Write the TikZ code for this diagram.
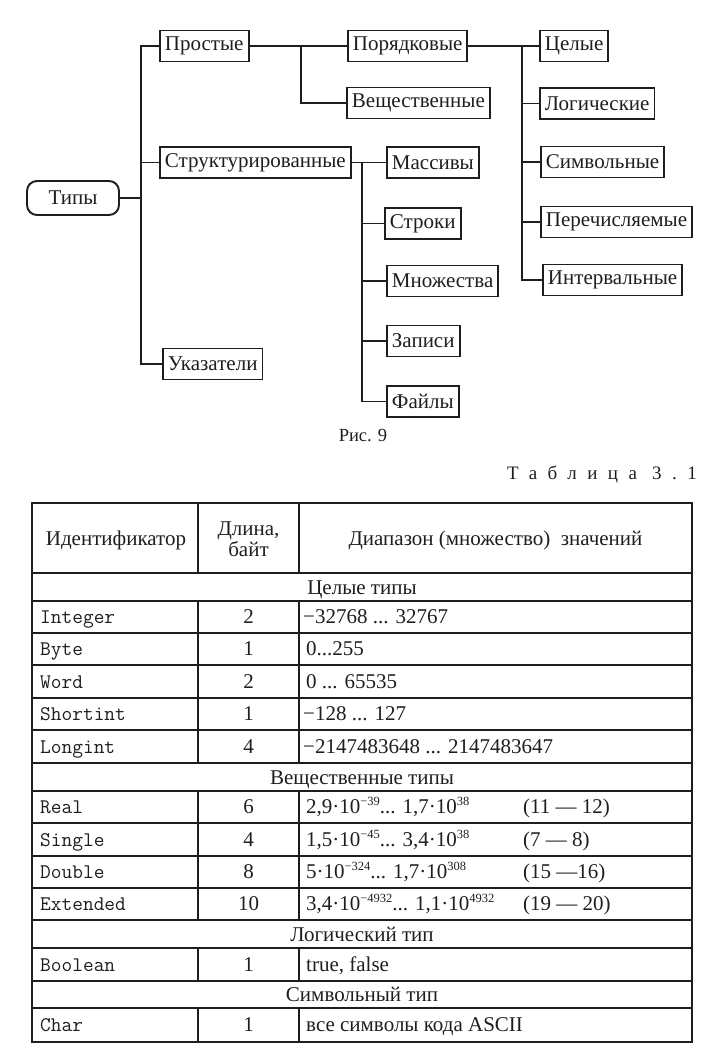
\documentclass[tikz,border=0pt]{standalone}
\usepackage{fontspec}
\setmainfont{Liberation Serif}
\definecolor{ink}{HTML}{1E1E1E}
\newcommand\sx[1]{\raisebox{7.5pt}{\fontsize{12.5}{13}\selectfont #1}}
\begin{document}
\begin{tikzpicture}[x=1pt,y=-1pt,
  box/.style={draw=ink,line width=1.9pt,fill=white,text=ink,
    font=\fontsize{21}{24}\selectfont,inner xsep=5pt,inner ysep=0pt,
    minimum height=31pt,anchor=west},
  conn/.style={draw=ink,line width=1.9pt},
  rule/.style={draw=ink,line width=1.4pt},
  tx/.style={text=ink,inner sep=0pt,font=\fontsize{21}{22}\selectfont},
  mono/.style={text=ink,inner sep=0pt,anchor=base west,font=\ttfamily\fontsize{20.8}{22}\selectfont},
  num/.style={tx,anchor=base},
  val/.style={tx,anchor=base west},
  sect/.style={tx,anchor=base}]
\useasboundingbox (0,0) rectangle (710,1060);
% ---------- diagram ----------
\node[box,rounded corners=10pt,minimum width=92pt,minimum height=34pt,anchor=center] (tipy) at (73,198) {Типы};
\node[box] (prost) at (159,46) {Простые};
\node[box] (struct) at (159,162.5) {Структурированные};
\node[box] (ukaz) at (162,364) {Указатели};
\node[box] (poryad) at (347,46) {Порядковые};
\node[box] (vesch) at (346,103) {Вещественные};
\node[box] (cel) at (539,46) {Целые};
\node[box] (logi) at (539,103.5) {Логические};
\node[box] (simv) at (540,162) {Символьные};
\node[box] (perech) at (540,222) {Перечисляемые};
\node[box] (interv) at (542,280) {Интервальные};
\node[box] (mass) at (386,162.5) {Массивы};
\node[box] (strok) at (384,223.5) {Строки};
\node[box] (mnozh) at (386,281) {Множества};
\node[box] (zap) at (386,341) {Записи};
\node[box] (fajl) at (386,401.5) {Файлы};
\coordinate (t1) at (141,0);
\coordinate (b1) at (301,0);
\coordinate (b2) at (522,0);
\coordinate (b3) at (362,0);
\draw[conn] (tipy.east) -- (tipy.east -| t1);
\draw[conn] (prost.west) -| (t1 |- ukaz.west) -- (ukaz.west);
\draw[conn] (struct.west) -- (struct.west -| t1);
\draw[conn] (prost.east) -- (poryad.west);
\draw[conn] (prost.east -| b1) |- (vesch.west);
\draw[conn] (poryad.east) -- (cel.west);
\draw[conn] (poryad.east -| b2) |- (interv.west);
\foreach \n in {logi,simv,perech} \draw[conn] (\n.west -| b2) -- (\n.west);
\draw[conn] (struct.east) -- (mass.west);
\draw[conn] (struct.east -| b3) |- (fajl.west);
\foreach \n in {strok,mnozh,zap} \draw[conn] (\n.west -| b3) -- (\n.west);
\node[tx,font=\fontsize{18.5}{20}\selectfont] (ris) at (363,436) {Рис. 9};
\node[tx,anchor=base east,font=\fontsize{19}{20}\selectfont\addfontfeature{LetterSpace=55}] (tabl) at (697,479) {Таблица 3.1};
% ---------- table ----------
\draw[rule] (32,503) rectangle (692,1042);
\foreach \y in {573,601,633,665,698,730,763,791,823,856,888,920,948,981,1008}
  \draw[rule] (32,\y) -- (692,\y);
\foreach \a/\b in {503/573,601/763,791/920,948/981,1008/1042}{
  \draw[rule] (198,\a) -- (198,\b);
  \draw[rule] (299,\a) -- (299,\b);}
\node[tx] (h1) at (116,540) {Идентификатор};
\node[tx,align=center,font=\fontsize{21}{19.5}\selectfont] (h2) at (248.5,539) {Длина,\\байт};
\node[tx] (h3) at (495.5,540) {Диапазон (множество)\ \ значений};
\node[sect] (s1) at (362,594) {Целые типы};
\node[sect] (s2) at (362,784) {Вещественные типы};
\node[sect] (s3) at (362,941) {Логический тип};
\node[sect] (s4) at (362,1001) {Символьный тип};
% rows
\node[mono] (r1a) at (40,623) {Integer};  \node[num] (r1b) at (248.5,623) {2};  \node[val] (r1c) at (303,623) {−32768 ... 32767};
\node[mono] (r2a) at (40,655) {Byte};     \node[num] (r2b) at (248.5,655) {1};  \node[val] (r2c) at (306,655) {0...255};
\node[mono] (r3a) at (40,688) {Word};     \node[num] (r3b) at (248.5,688) {2};  \node[val] (r3c) at (306,688) {0 ... 65535};
\node[mono] (r4a) at (40,720) {Shortint}; \node[num] (r4b) at (248.5,720) {1};  \node[val] (r4c) at (303,720) {−128 ... 127};
\node[mono] (r5a) at (40,753) {Longint};  \node[num] (r5b) at (248.5,753) {4};  \node[val] (r5c) at (303,753) {−2147483648 ... 2147483647};
\node[mono] (r6a) at (40,813) {Real};     \node[num] (r6b) at (248.5,813) {6};  \node[val] (r6c) at (306,813) {2,9·10\sx{−39}... 1,7·10\sx{38}};
\node[val] (r6d) at (523,813) {(11 — 12)};
\node[mono] (r7a) at (40,846) {Single};   \node[num] (r7b) at (248.5,846) {4};  \node[val] (r7c) at (306,846) {1,5·10\sx{−45}... 3,4·10\sx{38}};
\node[val] (r7d) at (523,846) {(7 — 8)};
\node[mono] (r8a) at (40,878) {Double};   \node[num] (r8b) at (248.5,878) {8};  \node[val] (r8c) at (306,878) {5·10\sx{−324}... 1,7·10\sx{308}};
\node[val] (r8d) at (523,878) {(15 —16)};
\node[mono] (r9a) at (40,910) {Extended}; \node[num] (r9b) at (248.5,910) {10}; \node[val] (r9c) at (306,910) {3,4·10\sx{−4932}... 1,1·10\sx{4932}};
\node[val] (r9d) at (523,910) {(19 — 20)};
\node[mono] (r10a) at (40,971) {Boolean}; \node[num] (r10b) at (248.5,971) {1}; \node[val] (r10c) at (306,971) {true,\ false};
\node[mono] (r11a) at (40,1031) {Char};   \node[num] (r11b) at (248.5,1031) {1}; \node[val] (r11c) at (306,1031) {все символы кода ASCII};
\end{tikzpicture}
\end{document}
